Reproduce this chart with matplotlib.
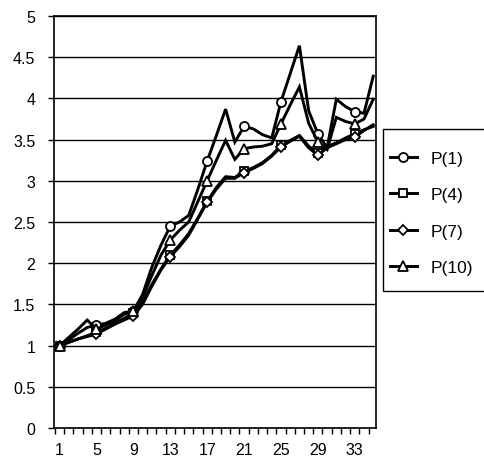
import numpy as np
import matplotlib.pyplot as plt
from matplotlib.patches import Rectangle
from matplotlib.ticker import FixedLocator, FuncFormatter

plt.rcParams['font.family'] = ['Liberation Sans', 'DejaVu Sans']

# category index along the x axis
steps = np.arange(1, 36)

p1 = [1.00, 1.07, 1.15, 1.22, 1.25, 1.27, 1.32, 1.40, 1.42, 1.62,
      1.95, 2.22, 2.45, 2.50, 2.58, 2.90, 3.24, 3.55, 3.87, 3.47,
      3.66, 3.63, 3.56, 3.52, 3.96, 4.30, 4.64, 3.85, 3.57, 3.40,
      3.99, 3.90, 3.84, 3.82, 4.27]
p4 = [1.00, 1.04, 1.08, 1.12, 1.16, 1.21, 1.27, 1.33, 1.40, 1.52,
      1.74, 1.93, 2.10, 2.22, 2.36, 2.55, 2.75, 2.92, 3.05, 3.04,
      3.12, 3.16, 3.22, 3.31, 3.43, 3.49, 3.55, 3.42, 3.34, 3.42,
      3.46, 3.52, 3.57, 3.62, 3.66]
p7 = [1.00, 1.04, 1.08, 1.11, 1.14, 1.20, 1.26, 1.31, 1.36, 1.50,
      1.72, 1.92, 2.08, 2.20, 2.34, 2.54, 2.74, 2.90, 3.03, 3.03,
      3.10, 3.15, 3.21, 3.30, 3.41, 3.48, 3.54, 3.40, 3.31, 3.40,
      3.45, 3.50, 3.53, 3.61, 3.68]
p10 = [1.00, 1.10, 1.20, 1.31, 1.20, 1.25, 1.30, 1.38, 1.42, 1.58,
       1.85, 2.10, 2.28, 2.40, 2.50, 2.75, 3.00, 3.25, 3.49, 3.26,
       3.39, 3.41, 3.42, 3.45, 3.69, 3.92, 4.14, 3.70, 3.47, 3.38,
       3.77, 3.72, 3.69, 3.75, 3.99]

series = [('P(1)', p1, 'o', 6.5),
          ('P(4)', p4, 's', 6),
          ('P(7)', p7, 'D', 5),
          ('P(10)', p10, '^', 6.5)]

x_labels = [1, 5, 9, 13, 17, 21, 25, 29, 33]

fig = plt.figure(figsize=(4.84, 4.6), dpi=100)
ax = fig.add_axes([54 / 484, 1 - 429 / 460, 322 / 484, 412 / 460])

for name, vals, mk, ms in series:
    ax.plot(steps, vals, color='black', lw=2.1, marker=mk, ms=ms,
            mfc='white', mec='black', mew=1.3, markevery=4, label=name,
            solid_joinstyle='miter')

ax.set_xlim(0.4, 35.3)
ax.set_ylim(0, 5)
ax.set_yticks(np.arange(0, 5.01, 0.5))
ax.yaxis.set_major_formatter(FuncFormatter(lambda v, p: f'{v:g}'))
ax.yaxis.grid(True, color='black', lw=1.0)
ax.set_axisbelow(True)

ax.set_xticks(x_labels)
ax.set_xticklabels([str(v) for v in x_labels])
ax.tick_params(axis='x', which='major', length=0, pad=10, labelsize=11.5)
ax.xaxis.set_minor_locator(FixedLocator(np.arange(0.5, 35.4, 1.0)))
ax.tick_params(axis='x', which='minor', length=4, width=1.0, direction='out')
ax.tick_params(axis='y', length=4.5, width=1.0, labelsize=11.5, pad=9)

for side in ['left', 'bottom', 'right', 'top']:
    ax.spines[side].set_color('black')
    ax.spines[side].set_linewidth(1.2)

# legend entries without their own frame; the box is drawn separately
leg = fig.legend(loc='upper left', bbox_to_anchor=(390 / 484, 1 - 152 / 460),
                 frameon=False, fontsize=12.5, handlelength=1.55,
                 labelspacing=1.22, borderpad=0, handletextpad=0.8,
                 borderaxespad=0)
fig.patches.append(Rectangle((383 / 484, 1 - 292 / 460), 110 / 484, 162 / 460,
                             transform=fig.transFigure, fill=False,
                             edgecolor='black', lw=1.0))

fig.savefig('out.png', dpi=100)
